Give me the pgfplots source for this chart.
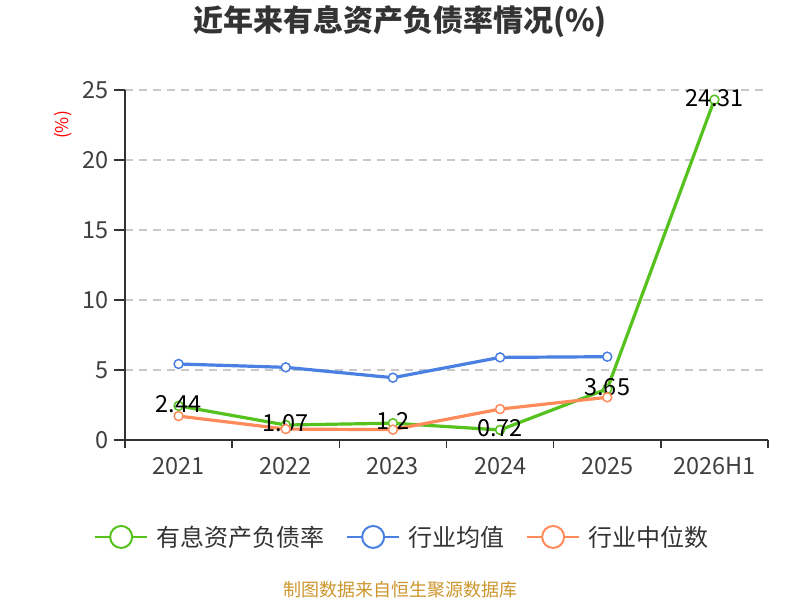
\documentclass[border=0pt]{standalone}
\usepackage{fontspec}
\setmainfont{Noto Sans CJK SC}
\usepackage{pgfplots}
\pgfplotsset{compat=1.18}
\definecolor{cgreen}{RGB}{86,194,30}
\definecolor{cblue}{RGB}{74,128,226}
\definecolor{corange}{RGB}{255,138,90}
\definecolor{ctext}{RGB}{51,51,51}
\definecolor{ctick}{RGB}{64,64,64}
\definecolor{csrc}{RGB}{204,150,45}
\definecolor{cgrid}{RGB}{200,200,200}
\begin{document}
\begin{tikzpicture}
\path[use as bounding box] (0,0) rectangle (800pt,600pt);
\node[font=\fontsize{30}{33}\selectfont\bfseries, text=ctext] at (400pt,578pt) {近年来有息资产负债率情况(\%)};
\node[font=\fontsize{17.5}{19}\selectfont, text=red, rotate=90] at (63pt,475pt) {(\%)};
\node[font=\fontsize{18}{20}\selectfont, text=csrc] at (400pt,10pt) {制图数据来自恒生聚源数据库};
\begin{axis}[
  at={(125pt,160pt)}, anchor=south west,
  scale only axis, width=643pt, height=350pt,
  xmin=-0.5, xmax=5.5, ymin=0, ymax=25,
  axis x line*=bottom, axis y line*=left,
  axis line style={draw=ctext, line width=1.5pt},
  xtick={0,1,2,3,4,5},
  xticklabels={2021,2022,2023,2024,2025,2026H1},
  minor xtick={-0.5,0.5,1.5,2.5,3.5,4.5,5.5},
  ytick={0,5,10,15,20,25},
  tick align=outside,
  major tick length=11pt, minor tick length=8pt,
  major x tick style={draw=none},
  minor x tick style={draw=ctext, line width=1.5pt},
  ytick style={draw=ctext, line width=1.5pt},
  ymajorgrids,
  major grid style={draw=cgrid, line width=1.2pt, dash pattern=on 8pt off 6pt},
  /pgf/number format/assume math mode=true,
  tick label style={font=\fontsize{23.5}{26}\selectfont, text=ctick},
  xticklabel style={yshift=-3pt},
  yticklabel style={xshift=-2pt},
  legend columns=3,
  legend style={at={(0.431,-0.277)}, anchor=center, draw=none, fill=none,
    font=\fontsize{24}{26}\selectfont, text=ctext,
    /tikz/every odd column/.append style={column sep=6pt},
    /tikz/every even column/.append style={column sep=20pt}},
  legend image code/.code={
    \draw[line width=2pt, mark=none] (0pt,0pt) -- (52pt,0pt);
    \draw[line width=2pt, fill=white, mark=none] (26pt,0pt) circle (11pt);
  },
]
\addplot[color=cgreen, line width=3.2pt, mark=*, mark size=4.5pt,
  mark options={fill=white, line width=1.5pt},
  nodes near coords, point meta=explicit symbolic,
  every node near coord/.append style={anchor=center, yshift=2pt, text=black, font=\fontsize{23.5}{26}\selectfont}]
  coordinates {(0,2.44)[2.44] (1,1.07)[1.07] (2,1.2)[1.2] (3,0.72)[0.72] (4,3.65)[3.65] (5,24.31)[24.31]};
\addlegendentry{有息资产负债率}
\addplot[color=cblue, line width=3.2pt, mark=*, mark size=4.5pt,
  mark options={fill=white, line width=1.5pt}]
  coordinates {(0,5.43) (1,5.19) (2,4.45) (3,5.9) (4,5.95)};
\addlegendentry{行业均值}
\addplot[color=corange, line width=3.2pt, mark=*, mark size=4.5pt,
  mark options={fill=white, line width=1.5pt}]
  coordinates {(0,1.71) (1,0.78) (2,0.74) (3,2.21) (4,3.05)};
\addlegendentry{行业中位数}
\end{axis}
\end{tikzpicture}
\end{document}
